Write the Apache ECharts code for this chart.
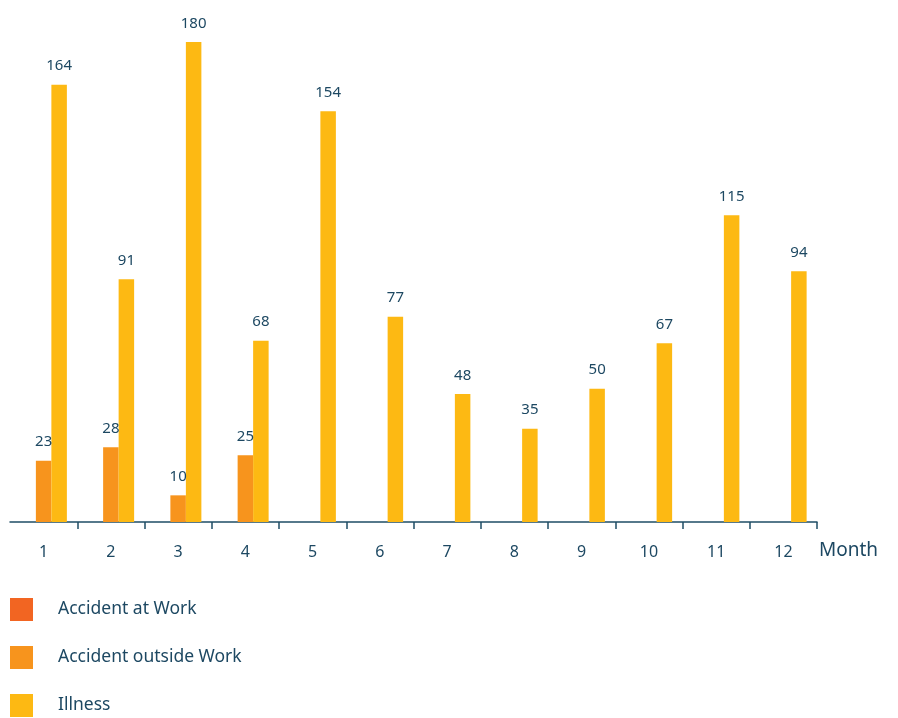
<!DOCTYPE html>
<html><head><meta charset="utf-8">
<script src="https://cdn.jsdelivr.net/npm/echarts@6/dist/echarts.min.js"></script>
<style>html,body{margin:0;padding:0;background:#fff}#c{width:898px;height:718px}</style>
</head><body><div id="c"></div>
<script>
var months = ['1','2','3','4','5','6','7','8','9','10','11','12'];
var accidentAtWork = [null,null,null,null,null,null,null,null,null,null,null,null];
var accidentOutsideWork = [23,28,10,25,null,null,null,null,null,null,null,null];
var illness = [164,91,180,68,154,77,48,35,50,67,115,94];
var seriesNames = ['Accident at Work','Accident outside Work','Illness'];
var colors = ['#F26522','#F7941D','#FDB913'];
var textColor = '#1d4862';
var font = 'Noto Sans';

var chart = echarts.init(document.getElementById('c'));
function mk(name, data, color){
  return {
    name:name, type:'bar', data:data, barWidth:15.5, barGap:'0%',
    itemStyle:{color:color},
    label:{show:true, position:'top', distance:11, color:textColor, fontFamily:font, fontSize:15,
      formatter:function(p){return p.value==null?'':p.value;}}
  };
}
chart.setOption({
  animation:false,
  grid:{left:10, right:81, top:42, bottom:196, containLabel:false},
  legend:{
    orient:'vertical', left:10, top:598, padding:0, height:130, itemWidth:23, itemHeight:23, itemGap:25,
    icon:'rect', data:seriesNames,
    textStyle:{color:textColor, fontFamily:font, fontSize:17.5, padding:[8,0,0,20]}
  },
  xAxis:{
    type:'category', data:months,
    name:'Month', nameLocation:'end', nameGap:2,
    nameTextStyle:{color:textColor, fontFamily:font, fontSize:19, align:'left', verticalAlign:'top', lineHeight:22, padding:[18,0,0,0]},
    axisLine:{lineStyle:{color:'#1f4e66', width:1.5}},
    axisTick:{show:true, length:7, inside:false, lineStyle:{color:'#1f4e66', width:1.5},
      interval:function(i){return i!==0 && i!==12;}},
    axisLabel:{color:textColor, fontFamily:font, fontSize:16, margin:22}
  },
  yAxis:{type:'value', min:0, max:180, show:false, splitLine:{show:false}},
  series:[mk(seriesNames[0], accidentAtWork, colors[0]), mk(seriesNames[1], accidentOutsideWork, colors[1]), mk(seriesNames[2], illness, colors[2])]
});
</script></body></html>
